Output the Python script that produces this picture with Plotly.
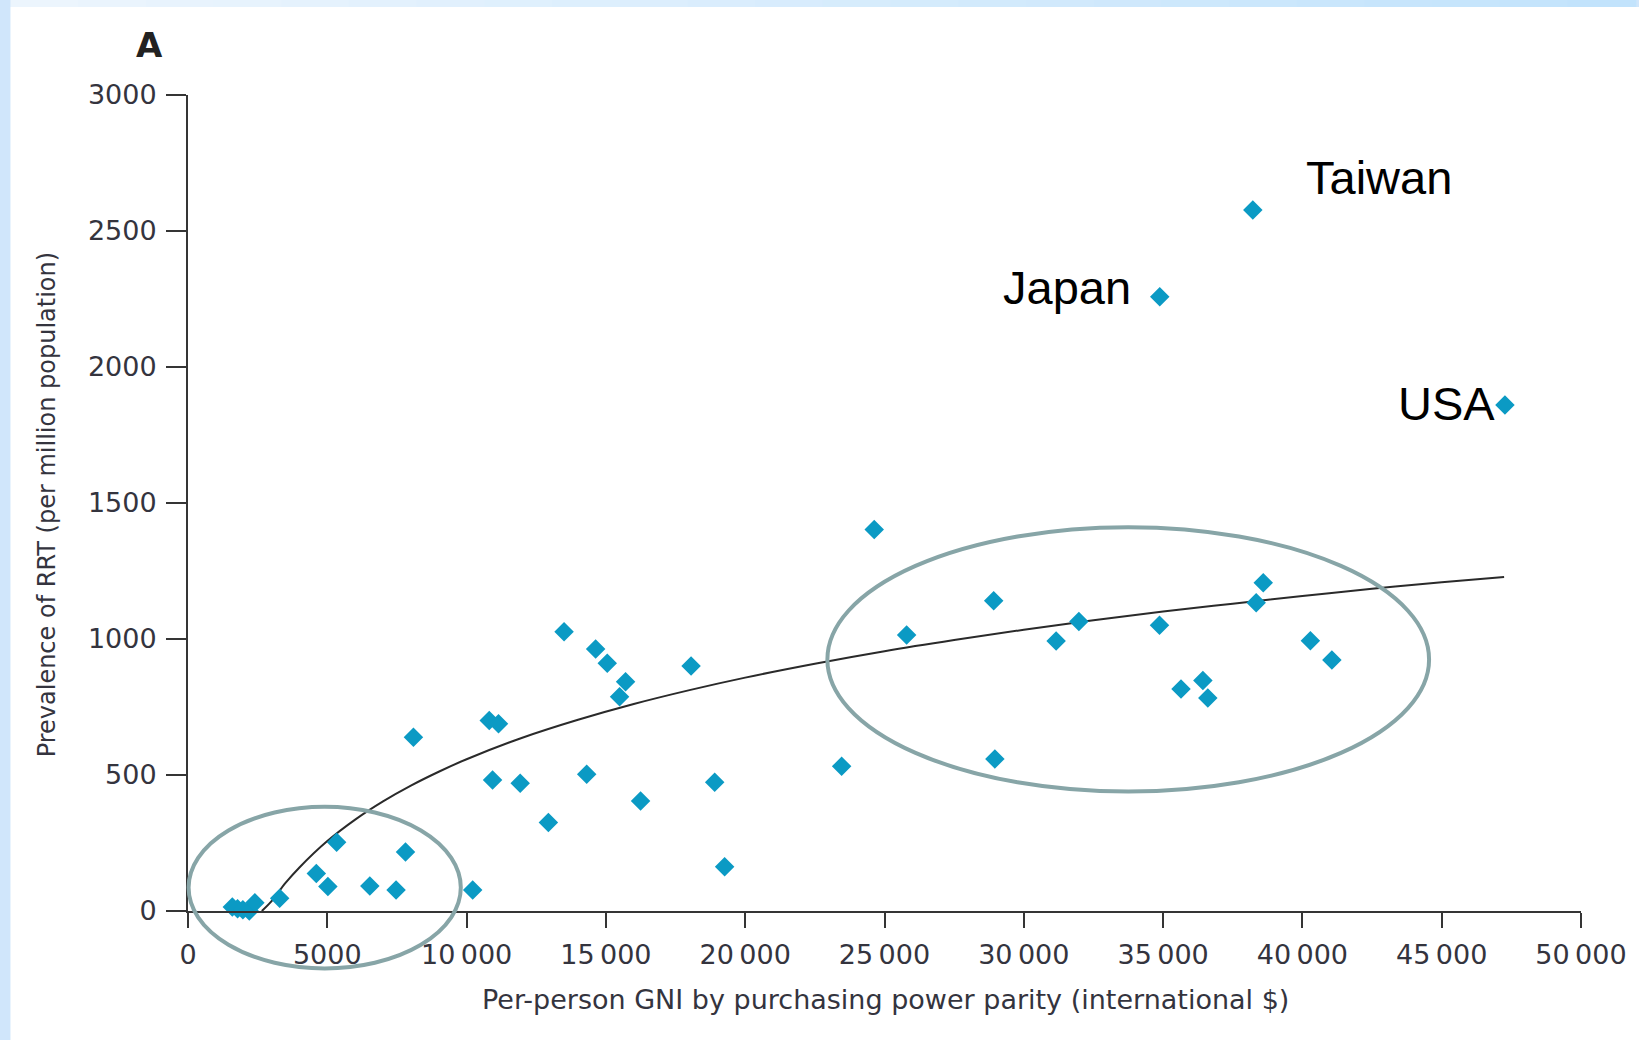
import plotly.graph_objects as go

# Per-person GNI (PPP, international $) and RRT prevalence (per million) by country
gni = [
    1590, 1780, 1970, 2200, 2400, 3290, 4605, 5020, 5335, 6527, 7469, 7806, 8092, 10219,
    10813, 11146, 10931, 11923, 12936, 13498, 14311, 14632, 15048, 15491, 15706, 16244,
    18056, 18905, 19262,
    23462, 24631, 25795, 28919, 28961, 31161, 31977, 34870, 35643, 36427, 36606, 38342,
    38596, 40286, 41059,
]
rrt = [
    15, 8, 5, 0, 30, 47, 138, 90, 253, 92, 77, 217, 639, 77,
    700, 688, 482, 470, 325, 1027, 503, 963, 911, 788, 843, 404,
    901, 473, 163,
    532, 1403, 1015, 1141, 559, 993, 1064, 1051, 816, 847, 783, 1133,
    1207, 994, 923,
]

# Named high-prevalence countries
named_countries = ["Taiwan", "Japan", "USA"]
named_gni = [38221, 34880, 47270]
named_rrt = [2577, 2258, 1860]

# Fitted trend curve
trend_gni = [2650, 3000, 3500, 4000, 5000, 6000, 7000, 8000, 9000, 10000, 12000, 14000,
             16000, 18000, 20000, 22500, 25000, 27500, 30000, 32500, 35000, 37500,
             40000, 42500, 45000, 47240]
trend_rrt = [0, 36, 103, 160, 257, 336, 403, 461, 512, 558, 637, 703,
             761, 812, 858, 909, 955, 996, 1034, 1069, 1101, 1130,
             1158, 1185, 1209, 1228]

x_ticks = [0, 5000, 10000, 15000, 20000, 25000, 30000, 35000, 40000, 45000, 50000]
y_ticks = [0, 500, 1000, 1500, 2000, 2500, 3000]

X_MAX = 50000
Y_MAX = 3000

# Figure geometry (pixels)
W, H = 1639, 1040
L, R, T, B = 188, 54.5, 95, 129
PW = W - L - R
PH = H - T - B


def px_x(px):
    return (px - L) / PW


def px_y(py):
    return (H - B - py) / PH


def thousands(v):
    s = str(v)
    if v >= 10000:
        return s[:-3] + "\u2009" + s[-3:]
    return s


AXIS = "#353535"
TEXT = "#34343e"
DIAMOND = "#0b9ac4"
RING = "#87a5a7"

fig = go.Figure()

fig.add_trace(go.Scatter(
    x=trend_gni, y=trend_rrt, mode="lines",
    line=dict(color="#2a2a2a", width=2, shape="spline", smoothing=1),
    hoverinfo="skip", showlegend=False,
))

fig.add_trace(go.Scatter(
    x=gni + named_gni, y=rrt + named_rrt, mode="markers",
    marker=dict(symbol="diamond", size=15, color=DIAMOND, line=dict(width=0)),
    cliponaxis=False, showlegend=False,
))

shapes = []

# Light-blue frame around the white panel
shapes.append(dict(type="rect", xref="paper", yref="paper", layer="below",
                   x0=px_x(10), x1=px_x(W + 5), y0=px_y(H + 5), y1=px_y(7),
                   fillcolor="white", line=dict(width=0)))
n_seg = 24
c0 = (236, 245, 253)
c1 = (194, 227, 252)
for i in range(n_seg):
    f = i / (n_seg - 1)
    col = "rgb({},{},{})".format(*[round(a + (b - a) * f) for a, b in zip(c0, c1)])
    xa = 10 + (W - 10) * i / n_seg
    xb = 10 + (W - 10) * (i + 1) / n_seg + 1
    shapes.append(dict(type="rect", xref="paper", yref="paper", layer="below",
                       x0=px_x(xa), x1=px_x(xb), y0=px_y(7), y1=px_y(-2),
                       fillcolor=col, line=dict(width=0)))

# Rings highlighting the low- and high-income groups
rings = [(21, 9792, -211, 383), (22950, 44547, 439, 1411)]
for gx0, gx1, ry0, ry1 in rings:
    shapes.append(dict(type="circle", xref="paper", yref="paper", layer="above",
                       x0=gx0 / X_MAX, x1=gx1 / X_MAX, y0=ry0 / Y_MAX, y1=ry1 / Y_MAX,
                       line=dict(color=RING, width=4)))

annotations = []
for name, gx, ry, anchor in [
    ("Taiwan", 40064, 2697, "left"),
    ("Japan", 33915, 2294, "right"),
    ("USA", 46983, 1864, "right"),
]:
    annotations.append(dict(
        x=gx, y=ry, xref="x", yref="y", text=name, showarrow=False,
        xanchor=anchor, yanchor="middle",
        font=dict(family="Liberation Sans, Arial, sans-serif", size=47, color="black"),
    ))

annotations.append(dict(
    x=px_x(887), y=px_y(999), xref="paper", yref="paper", showarrow=False,
    text="Per-person GNI by purchasing power parity (international $)",
    xanchor="center", yanchor="middle",
    font=dict(family="DejaVu Sans", size=27, color=TEXT),
))
annotations.append(dict(
    x=px_x(47), y=px_y(505), xref="paper", yref="paper", showarrow=False,
    text="Prevalence of RRT (per million population)", textangle=-90,
    xanchor="center", yanchor="middle",
    font=dict(family="DejaVu Sans", size=24, color=TEXT),
))
annotations.append(dict(
    x=px_x(149), y=px_y(45), xref="paper", yref="paper", showarrow=False,
    text="<b>A</b>", xanchor="center", yanchor="middle",
    font=dict(family="DejaVu Sans", size=34, color="#222222"),
))

fig.update_layout(
    width=W, height=H,
    margin=dict(l=L, r=R, t=T, b=B, pad=0),
    paper_bgcolor="rgb(208,230,251)",
    plot_bgcolor="rgba(0,0,0,0)",
    shapes=shapes,
    annotations=annotations,
    showlegend=False,
    xaxis=dict(
        range=[0, X_MAX], showgrid=False, zeroline=False,
        showline=True, linecolor=AXIS, linewidth=2,
        ticks="outside", ticklen=15, tickwidth=2, tickcolor=AXIS,
        tickvals=x_ticks, ticktext=[thousands(v) for v in x_ticks],
        tickfont=dict(family="DejaVu Sans", size=27, color=TEXT),
        ticklabelstandoff=4,
    ),
    yaxis=dict(
        range=[0, Y_MAX], showgrid=False, zeroline=False,
        showline=True, linecolor=AXIS, linewidth=2,
        ticks="outside", ticklen=20, tickwidth=2, tickcolor=AXIS,
        tickvals=y_ticks, ticktext=[str(v) for v in y_ticks],
        tickfont=dict(family="DejaVu Sans", size=27, color=TEXT),
        ticklabelstandoff=4,
    ),
)

fig.write_html("out.html")
